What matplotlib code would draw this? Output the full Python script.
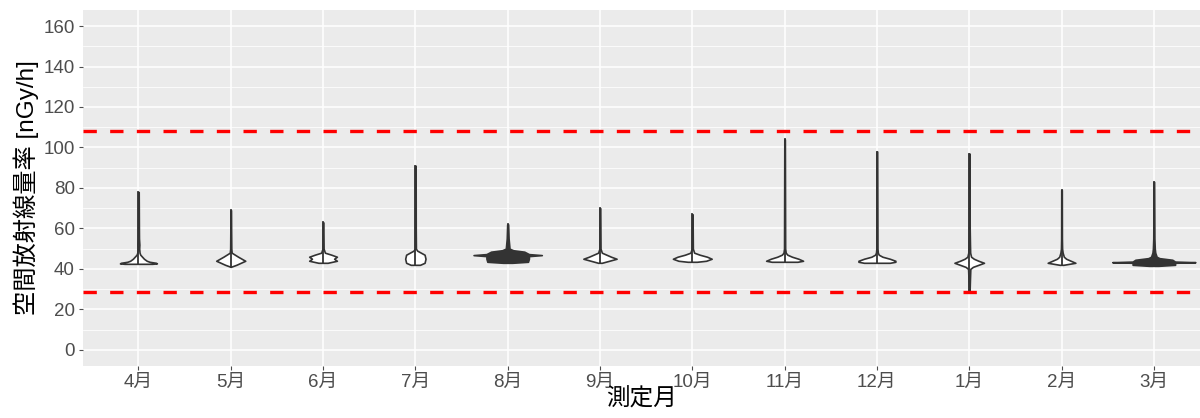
import matplotlib.pyplot as plt
import numpy as np

plt.rcParams['font.family'] = ['Liberation Sans', 'Noto Sans CJK JP']

# 月ごとのバイオリン形状 (y値と半幅, 半幅は月の間隔=1とした単位)
months = ['4月', '5月', '6月', '7月', '8月', '9月', '10月', '11月', '12月', '1月', '2月', '3月']
violin_y = [
    [42.5, 42.7, 43, 43.5, 44, 45, 46, 47, 48, 50, 52, 55, 60, 70, 78],
    [41, 42, 44, 46, 48, 50, 60, 69],
    [43, 44, 45, 46, 47, 48, 50, 63],
    [42, 43, 45, 47, 49, 50, 60, 91],
    [43, 43.5, 45, 46.3, 46.8, 47.3, 48.5, 49.2, 50, 55, 62],
    [43, 44, 45, 46, 47, 48, 50, 70],
    [43.5, 44, 45, 46, 47, 48, 50, 67],
    [43.5, 44, 45, 46, 47, 48, 50, 104],
    [43, 43.5, 44, 45, 46, 47, 48, 50, 98],
    [29, 35, 40, 41, 42, 43, 44, 45, 46, 48, 52, 60, 97],
    [42, 43, 44, 45, 46, 48, 50, 55, 79],
    [41.5, 42, 43, 43.3, 43.6, 44.5, 45.3, 46, 48, 50, 55, 83],
]
violin_w = [
    [0.15, 0.2, 0.19, 0.12, 0.09, 0.06, 0.04, 0.02, 0.012, 0.008, 0.01, 0.006, 0.005, 0.004, 0.003],
    [0.0, 0.06, 0.157, 0.08, 0.01, 0.006, 0.004, 0.003],
    [0.05, 0.15, 0.12, 0.15, 0.09, 0.02, 0.006, 0.003],
    [0.05, 0.1, 0.11, 0.1, 0.02, 0.006, 0.004, 0.003],
    [0.05, 0.22, 0.23, 0.23, 0.37, 0.23, 0.18, 0.06, 0.02, 0.01, 0.005],
    [0.02, 0.1, 0.18, 0.12, 0.07, 0.02, 0.006, 0.003],
    [0.05, 0.15, 0.21, 0.16, 0.08, 0.02, 0.006, 0.003],
    [0.14, 0.2, 0.15, 0.08, 0.03, 0.012, 0.006, 0.003],
    [0.14, 0.2, 0.2, 0.14, 0.06, 0.02, 0.01, 0.006, 0.003],
    [0.004, 0.008, 0.012, 0.04, 0.1, 0.16, 0.1, 0.05, 0.02, 0.01, 0.008, 0.005, 0.003],
    [0.02, 0.15, 0.1, 0.05, 0.025, 0.012, 0.006, 0.004, 0.003],
    [0.05, 0.23, 0.23, 0.45, 0.23, 0.2, 0.06, 0.03, 0.015, 0.01, 0.006, 0.003],
]
# 点が密集して黒く見える月
dense_months = ['8月', '3月']

# 基準線
upper_line = 108.3
lower_line = 28.5

fig = plt.figure(figsize=(12, 4.18), dpi=100)
ax = fig.add_axes([0.0692, 0.1244, 0.9308, 0.852])
ax.set_facecolor('#EBEBEB')

for i, (m, ys, ws) in enumerate(zip(months, violin_y, violin_w)):
    ys = np.array(ys, dtype=float)
    ws = np.array(ws, dtype=float)
    fc = '#333333' if m in dense_months else 'white'
    ax.fill_betweenx(ys, i - ws, i + ws, facecolor=fc, edgecolor='#333333',
                     linewidth=1.2, zorder=3)
    # 先端までの細い線
    ax.plot([i, i], [ys[0], ys[-1]], color='#333333', lw=1.3, zorder=3)

ax.axhline(upper_line, color='#FF0000', lw=2.4, dashes=(4, 4), zorder=4)
ax.axhline(lower_line, color='#FF0000', lw=2.4, dashes=(4, 4), zorder=4)

ax.set_xlim(-0.6, 11.5)
ax.set_ylim(-8, 168)
ax.set_xticks(range(len(months)))
ax.set_xticklabels(months)
ax.set_yticks(range(0, 161, 20))
ax.set_yticks(range(10, 161, 20), minor=True)

ax.grid(which='major', color='white', lw=1.1)
ax.grid(which='minor', axis='y', color='white', lw=0.55)
ax.set_axisbelow(True)
for s in ax.spines.values():
    s.set_visible(False)

ax.tick_params(axis='both', which='major', colors='#4D4D4D', labelsize=13.5,
               length=3, width=0.8, pad=3)
ax.tick_params(axis='both', which='minor', length=0)
for lab in ax.get_xticklabels() + ax.get_yticklabels():
    lab.set_color('#4D4D4D')

ax.set_ylabel('空間放射線量率 [nGy/h]', fontsize=17.5, labelpad=3)
ax.set_xlabel('測定月', fontsize=17, labelpad=-2)

fig.savefig('out.png', dpi=100)
